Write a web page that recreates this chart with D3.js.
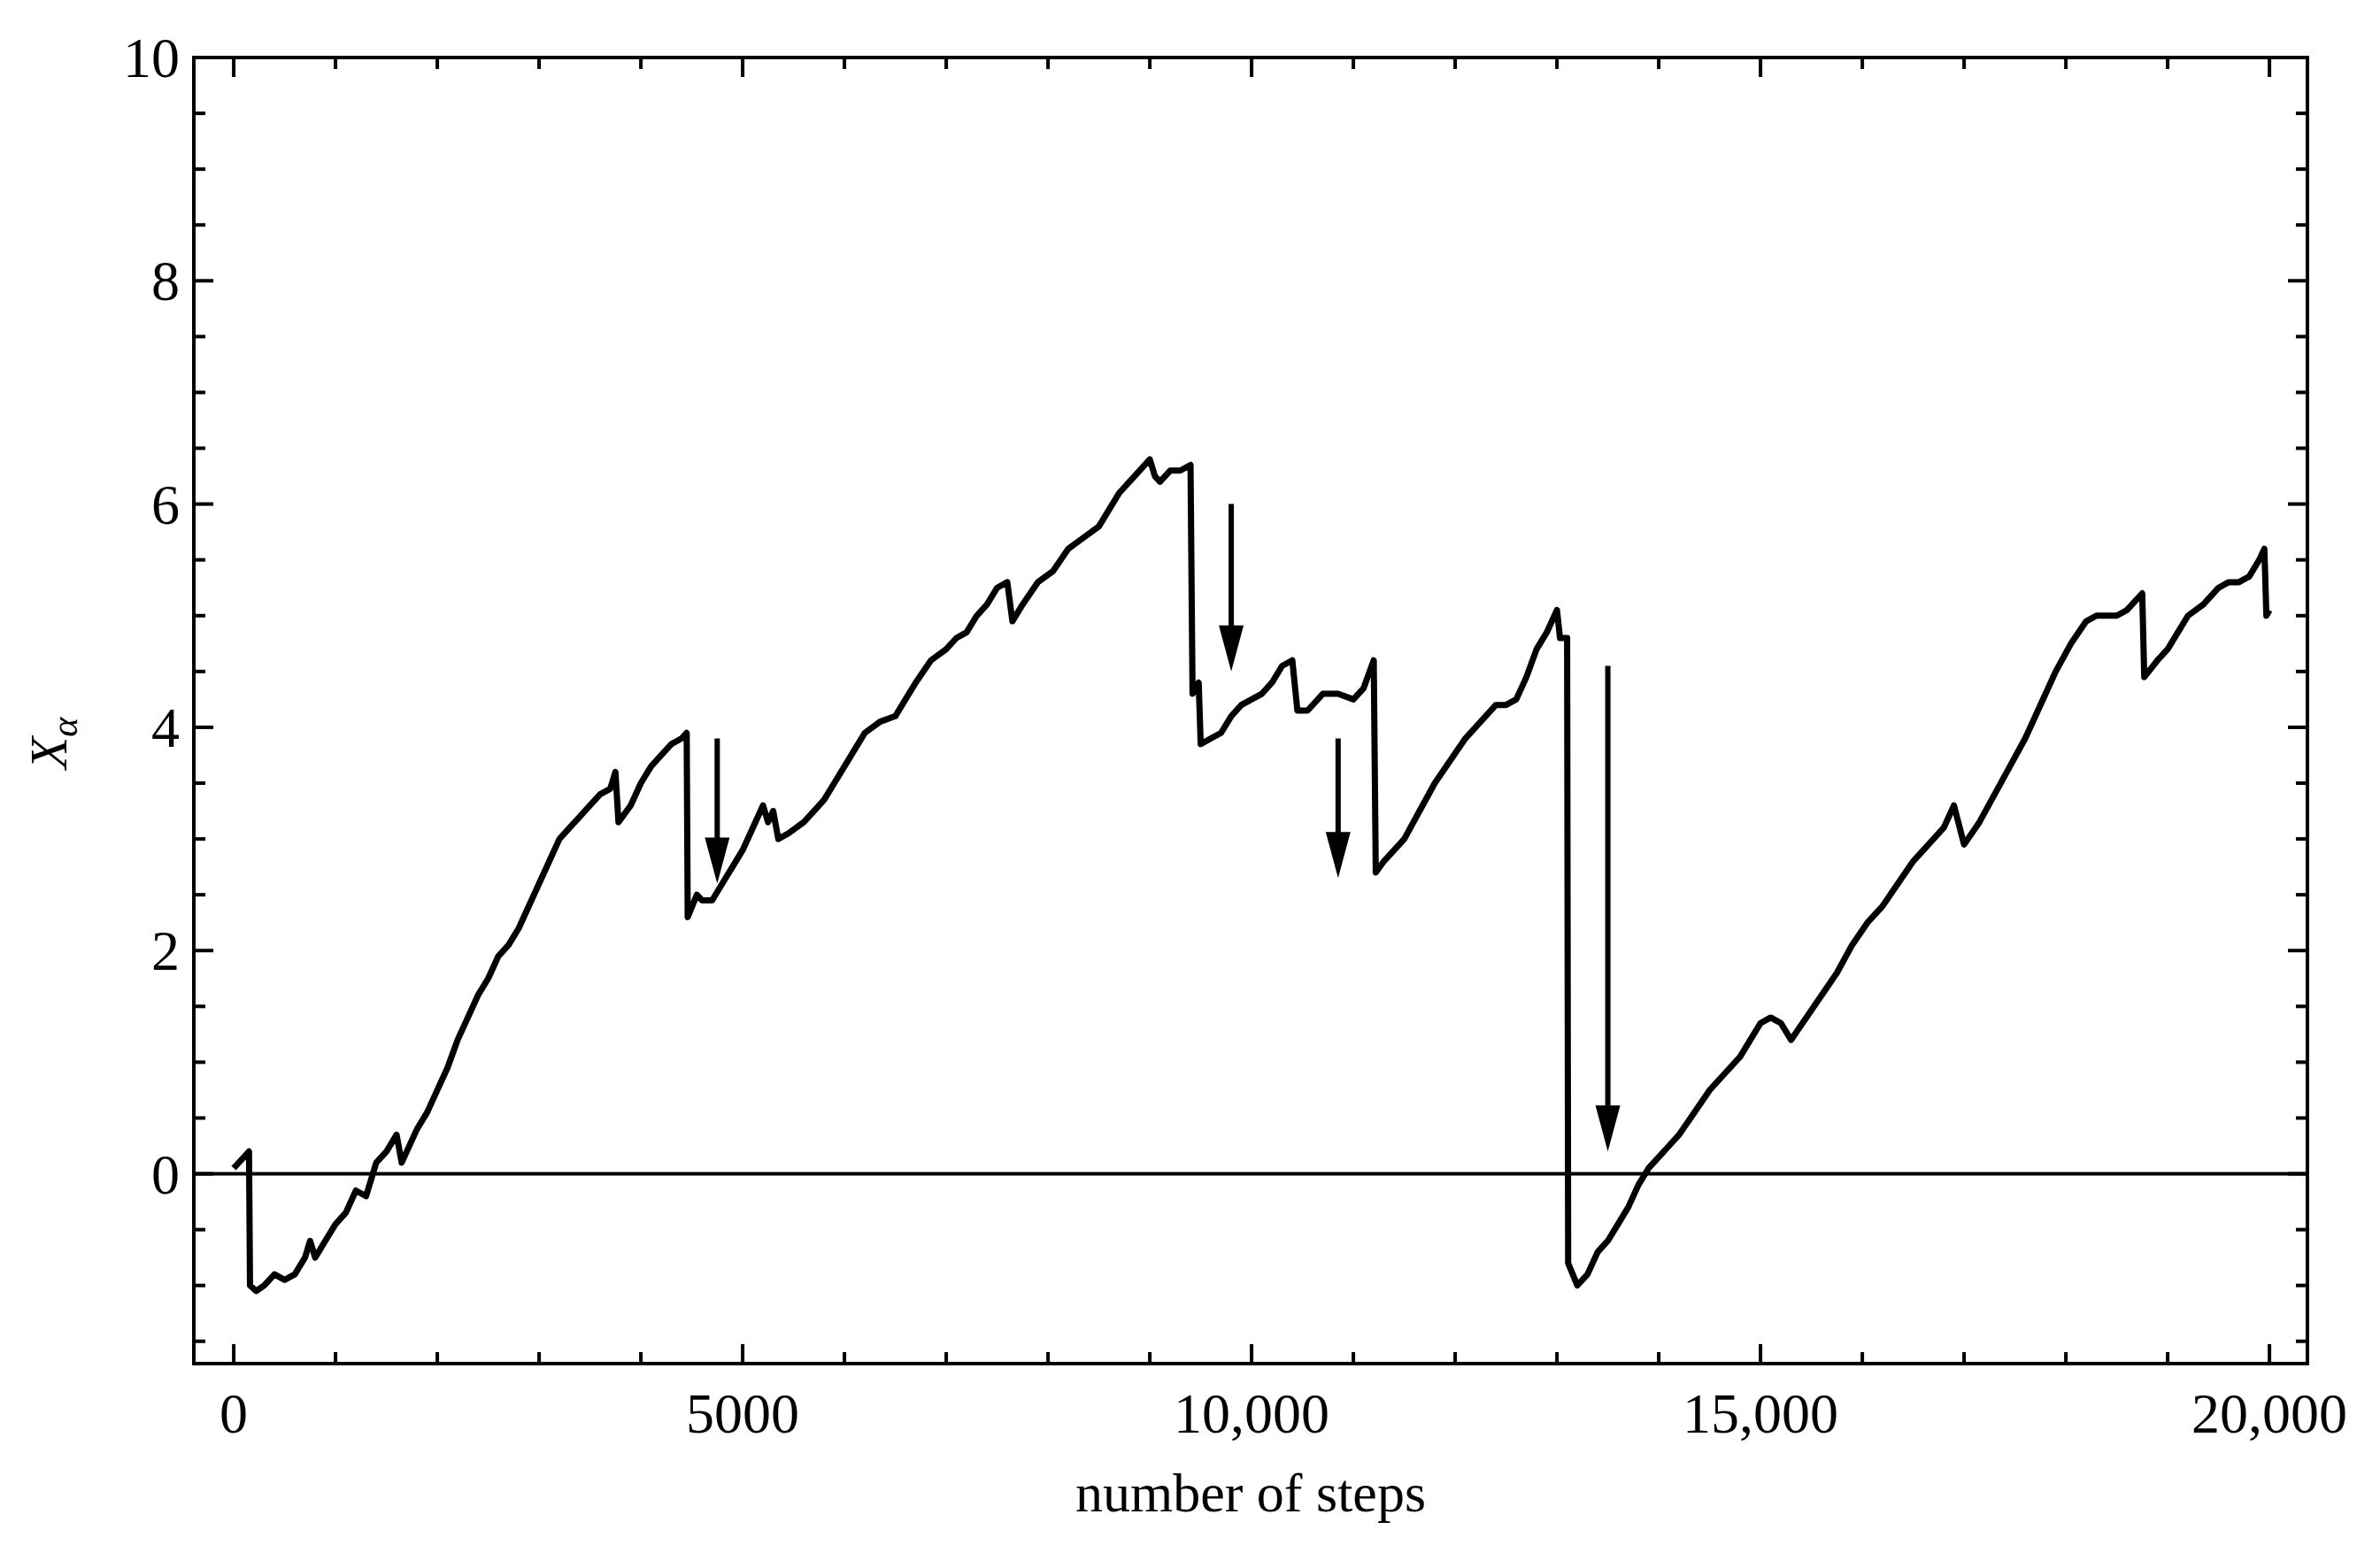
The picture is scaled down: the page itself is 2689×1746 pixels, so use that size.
<!DOCTYPE html>
<html><head><meta charset="utf-8">
<script src="https://cdn.jsdelivr.net/npm/d3@7"></script>
<style>body{margin:0;background:#fff}svg{display:block}</style></head>
<body><svg id="c" width="2689" height="1746"></svg>
<script>
const steps=[0,100,150,160,220,300,400,500,600,700,750,800,900,1000,1100,1200,1300,1400,1500,1600,1650,1800,1900,2000,2100,2200,2300,2400,2500,2600,2700,2800,2900,3000,3100,3200,3300,3400,3500,3600,3700,3750,3780,3900,4000,4100,4200,4300,4400,4450,4460,4550,4600,4700,4800,4900,5000,5100,5200,5250,5300,5350,5450,5600,5700,5800,5900,6000,6100,6200,6350,6500,6600,6700,6850,7000,7100,7200,7300,7400,7500,7600,7650,7750,7900,8050,8200,8350,8500,8600,8700,8850,9000,9050,9100,9200,9300,9400,9420,9480,9500,9600,9700,9800,9900,10000,10100,10200,10300,10400,10450,10550,10700,10850,11000,11100,11200,11220,11300,11500,11650,11800,11950,12100,12250,12400,12500,12600,12700,12800,12900,13000,13030,13100,13110,13200,13300,13400,13500,13600,13700,13800,13900,14000,14100,14200,14350,14500,14650,14800,14900,15000,15100,15200,15300,15450,15600,15750,15900,16050,16200,16350,16500,16650,16800,16900,17000,17150,17300,17450,17600,17750,17900,18050,18200,18300,18400,18500,18600,18750,18770,18900,19000,19100,19200,19350,19500,19600,19700,19800,19900,19950,19970,20000];
const xa=[0.05,0.15,0.2,-1.0,-1.05,-1.0,-0.9,-0.95,-0.9,-0.75,-0.6,-0.75,-0.6,-0.45,-0.35,-0.15,-0.2,0.1,0.2,0.35,0.1,0.4,0.55,0.75,0.95,1.2,1.4,1.6,1.75,1.95,2.05,2.2,2.4,2.6,2.8,3.0,3.1,3.2,3.3,3.4,3.45,3.6,3.15,3.3,3.5,3.65,3.75,3.85,3.9,3.95,2.3,2.5,2.45,2.45,2.6,2.75,2.9,3.1,3.3,3.15,3.25,3.0,3.05,3.15,3.25,3.35,3.5,3.65,3.8,3.95,4.05,4.1,4.25,4.4,4.6,4.7,4.8,4.85,5.0,5.1,5.25,5.3,4.95,5.1,5.3,5.4,5.6,5.7,5.8,5.95,6.1,6.25,6.4,6.25,6.2,6.3,6.3,6.35,4.3,4.4,3.85,3.9,3.95,4.1,4.2,4.25,4.3,4.4,4.55,4.6,4.15,4.15,4.3,4.3,4.25,4.35,4.6,2.7,2.8,3.0,3.25,3.5,3.7,3.9,4.05,4.2,4.2,4.25,4.45,4.7,4.85,5.05,4.8,4.8,-0.8,-1.0,-0.9,-0.7,-0.6,-0.45,-0.3,-0.1,0.05,0.15,0.25,0.35,0.55,0.75,0.9,1.05,1.2,1.35,1.4,1.35,1.2,1.4,1.6,1.8,2.05,2.25,2.4,2.6,2.8,2.95,3.1,3.3,2.95,3.15,3.4,3.65,3.9,4.2,4.5,4.75,4.95,5.0,5.0,5.0,5.05,5.2,4.45,4.6,4.7,4.85,5.0,5.1,5.25,5.3,5.3,5.35,5.5,5.6,5.0,5.05];
const xTicks=[0,5000,10000,15000,20000];
const xTickLabels=["0","5000","10,000","15,000","20,000"];
const yTicks=[0,2,4,6,8,10];
const arrowX=[4750,9800,10850,13500];
const arrowTop=[3.9,6.0,3.9,4.55];
const arrowTip=[2.6,4.5,2.65,0.2];

const svg=d3.select("#c");
const L=219,R=2607,T=65,B=1541;
const x=d3.scaleLinear().domain([-392,20373]).range([L,R]);
const y=d3.scaleLinear().domain([-1.7,10]).range([B,T]);
const font="Liberation Serif, Times New Roman, serif";
const g=svg.append("g");
const xMinor=d3.range(0,20001,1000), yMinor=d3.range(-1.5,10.01,0.5);
xMinor.forEach(v=>{const big=v%5000===0,len=big?22:13;
 g.append("line").attr("x1",x(v)).attr("x2",x(v)).attr("y1",B).attr("y2",B-len).attr("stroke","#000").attr("stroke-width",4);
 g.append("line").attr("x1",x(v)).attr("x2",x(v)).attr("y1",T).attr("y2",T+len).attr("stroke","#000").attr("stroke-width",4);});
yMinor.forEach(v=>{const big=Math.abs(v%2)<1e-9,len=big?22:13;
 g.append("line").attr("y1",y(v)).attr("y2",y(v)).attr("x1",L).attr("x2",L+len).attr("stroke","#000").attr("stroke-width",4);
 g.append("line").attr("y1",y(v)).attr("y2",y(v)).attr("x1",R).attr("x2",R-len).attr("stroke","#000").attr("stroke-width",4);});
g.append("line").attr("x1",L).attr("x2",R).attr("y1",y(0)).attr("y2",y(0)).attr("stroke","#000").attr("stroke-width",4);
g.append("path").datum(steps.map((s,i)=>[s,xa[i]])).attr("fill","none").attr("stroke","#000").attr("stroke-width",7).attr("stroke-linejoin","round")
 .attr("d",d3.line().x(d=>x(d[0])).y(d=>y(d[1])));
arrowX.forEach((a,i)=>{
 const xx=x(a),yt=y(arrowTop[i]),yp=y(arrowTip[i]);
 g.append("line").attr("x1",xx).attr("x2",xx).attr("y1",yt).attr("y2",yp-40).attr("stroke","#000").attr("stroke-width",6);
 g.append("path").attr("d",`M${xx-14},${yp-52}L${xx+14},${yp-52}L${xx},${yp}Z`).attr("fill","#000");
});
g.append("rect").attr("x",L).attr("y",T).attr("width",R-L).attr("height",B-T).attr("fill","none").attr("stroke","#000").attr("stroke-width",4);
xTicks.forEach((v,i)=>g.append("text").attr("x",x(v)).attr("y",B+78).attr("text-anchor","middle").attr("font-family",font).attr("font-size",64).text(xTickLabels[i]));
yTicks.forEach(v=>g.append("text").attr("x",203).attr("y",y(v)+22).attr("text-anchor","end").attr("font-family",font).attr("font-size",64).text(v));
g.append("text").attr("x",(L+R)/2).attr("y",1708).attr("text-anchor","middle").attr("font-family",font).attr("font-size",62).text("number of steps");
const yl=g.append("text").attr("transform","translate(75,840) rotate(-90)").attr("text-anchor","middle").attr("font-family",font).attr("font-size",60).attr("font-style","italic");
yl.append("tspan").text("X");
yl.append("tspan").attr("font-size",42).attr("dy",12).text("α");
</script></body></html>
